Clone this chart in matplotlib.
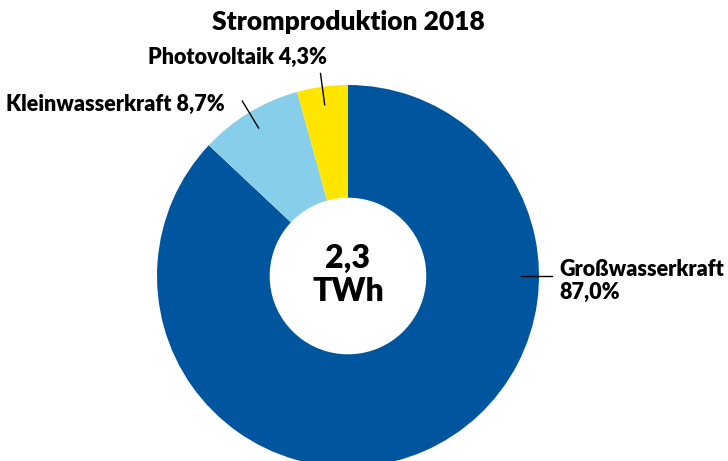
import matplotlib
matplotlib.use("Agg")
import matplotlib.pyplot as plt
import numpy as np

# data
categories = ["Großwasserkraft", "Kleinwasserkraft", "Photovoltaik"]
shares = [87.0, 8.7, 4.3]
colors = ["#00569E", "#87CEEB", "#FFE500"]
total_label = "2,3\nTWh"
title = "Stromproduktion 2018"

plt.rcParams['font.family'] = ['Lato', 'DejaVu Sans']
W, H = 728, 461
fig = plt.figure(figsize=(W / 100, H / 100), dpi=100)
ax = fig.add_axes([0, 0, 1, 1])

cx, cy = 348, H - 276
R = 191
wedges, _ = ax.pie(shares, colors=colors, startangle=90, counterclock=False,
                   radius=R, center=(cx, cy), frame=True,
                   wedgeprops=dict(width=R * 0.59, linewidth=0))
ax.set_xlim(0, W)
ax.set_ylim(0, H)
ax.set_aspect('equal')
ax.axis('off')

ax.text(cx, cy + 1, total_label, ha='center', va='center', fontsize=23,
        fontweight='heavy', linespacing=1.15)
ax.text(cx, H - 22, title, ha='center', va='center', fontsize=19, fontweight='heavy')

def fmt(v):
    return f"{v:.1f}".replace(".", ",") + "%"

# leader lines (mid angle of small wedges, horizontal for the big one)
for i, w in enumerate(wedges):
    ang = 0 if i == 0 else (w.theta1 + w.theta2) / 2
    a = np.deg2rad(ang)
    r0, r1 = R * 0.905, R * 1.07
    ax.plot([cx + r0 * np.cos(a), cx + r1 * np.cos(a)],
            [cy + r0 * np.sin(a), cy + r1 * np.sin(a)], color='black', lw=1)

lbl = dict(fontsize=15.5, fontweight='heavy')
ax.text(559, H - 281, f"{categories[0]}\n{fmt(shares[0])}", ha='left', va='center',
        linespacing=1.15, **lbl)
ax.text(225, H - 104, f"{categories[1]} {fmt(shares[1])}", ha='right', va='center', **lbl)
ax.text(327, H - 57, f"{categories[2]} {fmt(shares[2])}", ha='right', va='center', **lbl)

fig.savefig("out.png", dpi=100)
